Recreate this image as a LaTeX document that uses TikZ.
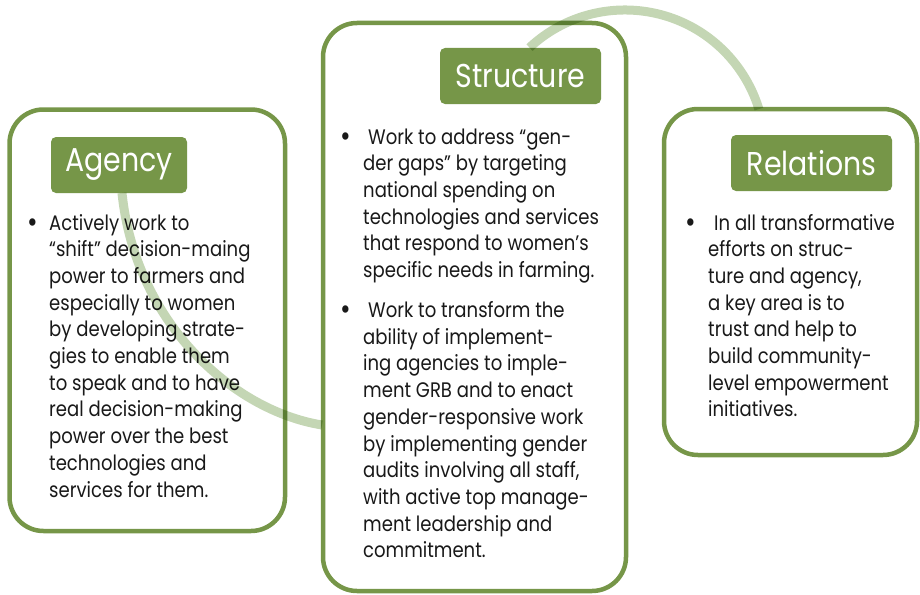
\documentclass[tikz,border=0pt]{standalone}
\usepackage{fontspec}
\setmainfont{Poppins}[FakeStretch=0.86]
\definecolor{boxgreen}{RGB}{118,150,72}
\definecolor{arcgreen}{RGB}{196,214,180}
\definecolor{ink}{RGB}{25,25,25}
\begin{document}
\begin{tikzpicture}[x=1pt,y=-1pt,
  box/.style={draw=boxgreen, line width=4.5pt, fill=white, rounded corners=34pt, inner sep=0pt},
  tab/.style={fill=boxgreen, rounded corners=5pt, inner sep=0pt, text=white, font=\fontsize{33}{33}\selectfont},
  body/.style={anchor=base west, inner sep=0pt, text=ink, font=\fontsize{21}{26.7}\selectfont},
  bul/.style={anchor=base west, inner sep=0pt, text=ink, font=\fontsize{30}{26.7}\selectfont},
  link/.style={draw=arcgreen, line width=9pt, blend mode=multiply}]
\useasboundingbox (0,0) rectangle (920,594);
% boxes
\node[box, minimum width=275.5pt, minimum height=421.5pt] (agencybox) at (147.25,320.25) {};
\node[box, minimum width=303pt, minimum height=568pt] (structbox) at (474.5,307) {};
\node[box, minimum width=253pt, minimum height=346pt] (relbox) at (790.5,282) {};
% tabs
\node[tab, minimum width=136pt, minimum height=56pt] (agencytab) at (119,165) {Agency};
\node[tab, minimum width=161pt, minimum height=56pt] (structtab) at (520.5,76) {Structure};
\node[tab, minimum width=161pt, minimum height=56pt] (reltab) at (811.5,163) {Relations};
% body text
\node[bul] (ab) at (27,232) {•};
\node[body] (agencytext) at (49,230) {\parbox[t]{240pt}{\raggedright
Actively work to\\
“shift” decision-maing\\
power to farmers and\\
especially to women\\
by developing strate-\\
gies to enable them\\
to speak and to have\\
real decision-making\\
power over the best\\
technologies and\\
services for them.}};
\node[bul] (sb1) at (340,146) {•};
\node[bul] (sb2) at (340,319) {•};
\node[body] (structtext) at (363,144) {\parbox[t]{260pt}{\raggedright
\hspace*{5pt}Work to address “gen-\\
der gaps” by targeting\\
national spending on\\
technologies and services\\
that respond to women’s\\
specific needs in farming.\\[13.3pt]
\hspace*{5pt}Work to transform the\\
ability of implement-\\
ing agencies to imple-\\
ment GRB and to enact\\
gender-responsive work\\
by implementing gender\\
audits involving all staff,\\
with active top manage-\\
ment leadership and\\
commitment.}};
\node[bul] (rb) at (685,232) {•};
\node[body] (reltext) at (708,230) {\parbox[t]{220pt}{\raggedright
\hspace*{6pt}In all transformative\\
efforts on struc-\\
ture and agency,\\
a key area is to\\
trust and help to\\
build community-\\
level empowerment\\
initiatives.}};
% connecting arcs
\coordinate (a1s) at (122,193);
\coordinate (a1e) at (322,425);
\coordinate (a2s) at (529.5,47.6);
\draw[link] (a1s) .. controls (135,320) and (230,410) .. (a1e);
\draw[link] (a2s) arc[start angle=227, end angle=343, radius=140];
\end{tikzpicture}
\end{document}
